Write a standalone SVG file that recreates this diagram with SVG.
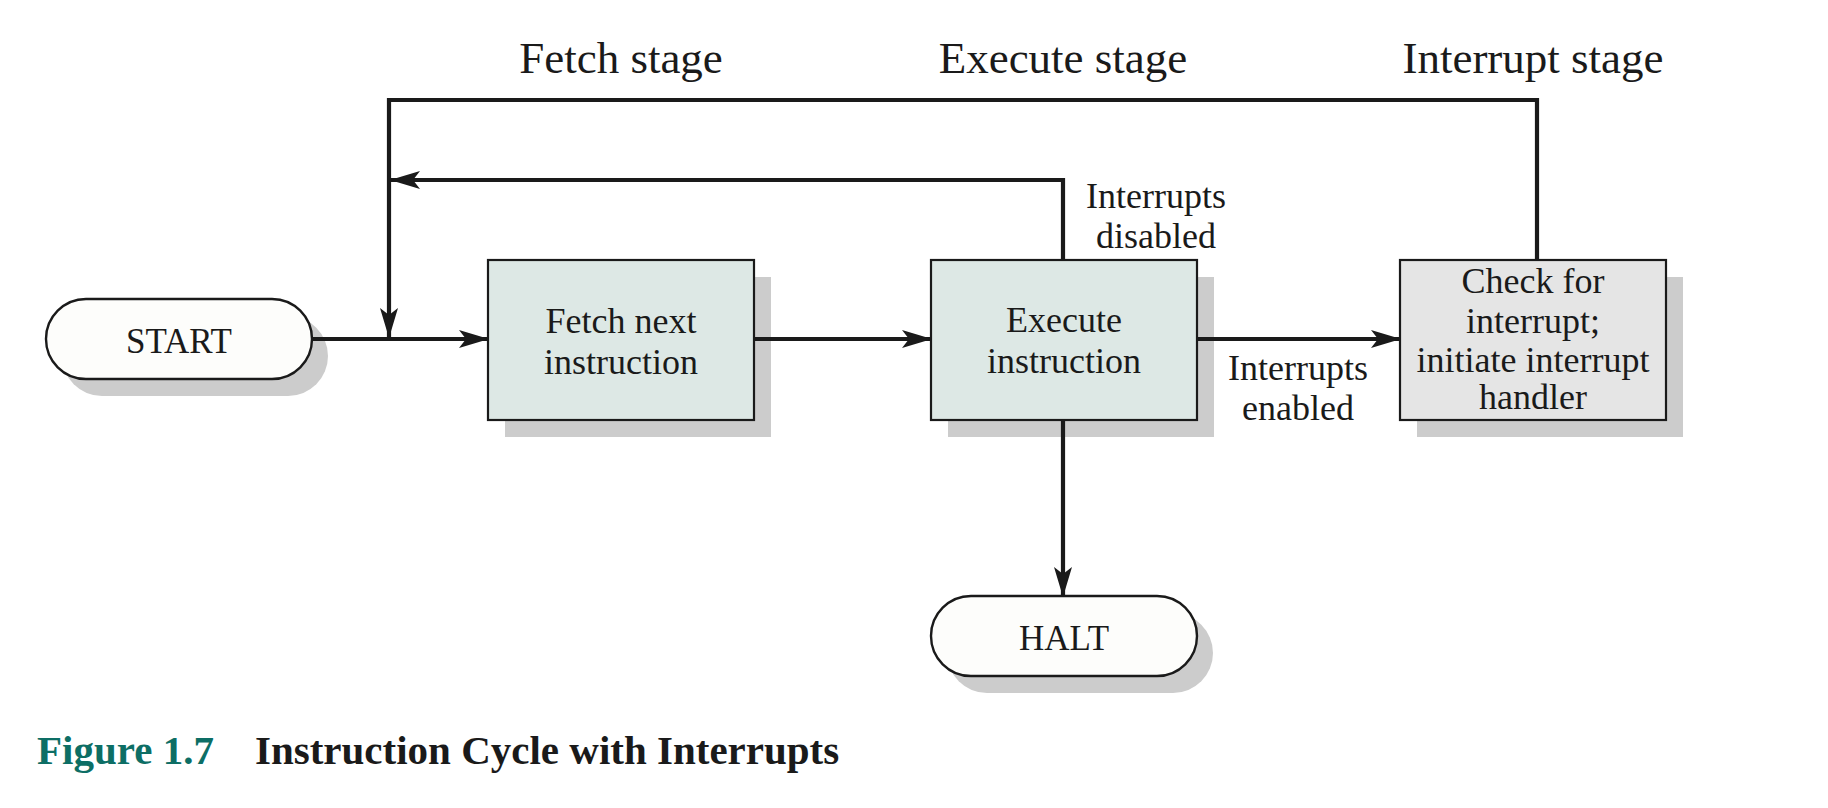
<svg xmlns="http://www.w3.org/2000/svg" width="1828" height="808" viewBox="0 0 1828 808">
  <style>
    .shadow { fill: #cccccc; }
    .proc { fill: #dde8e5; stroke: #1a1a1a; stroke-width: 2.2; }
    .check { fill: #e5e5e5; stroke: #1a1a1a; stroke-width: 2.2; }
    .term { fill: #fdfdfb; stroke: #1a1a1a; stroke-width: 2.4; }
    .lbl { font-family: "Liberation Serif", "Times New Roman", serif; fill: #1a1a1a; text-anchor: middle; }
    .box { font-size: 36px; }
    .term-t { font-size: 35px; }
    .stage { font-size: 45px; }
    .wire { fill: none; stroke: #1a1a1a; stroke-width: 4.2; stroke-linejoin: miter; }
    .cap { font-family: "Liberation Serif", "Times New Roman", serif; font-weight: bold; font-size: 41px; }
  </style>
  <defs>
    <marker id="arrow" viewBox="0 0 30 20" refX="29" refY="10" markerWidth="30" markerHeight="20" markerUnits="userSpaceOnUse" orient="auto">
      <path d="M0,1 L30,10 L0,19 L7,10 Z" fill="#1a1a1a"/>
    </marker>
  </defs>

  <rect width="1828" height="808" fill="#ffffff"/>

  <!-- stage headings -->
  <g id="stage-labels">
    <text class="lbl stage" x="621" y="73">Fetch stage</text>
    <text class="lbl stage" x="1063" y="73">Execute stage</text>
    <text class="lbl stage" x="1533" y="73">Interrupt stage</text>
  </g>

  <!-- START terminal -->
  <g id="start">
    <rect class="shadow" x="62" y="316" width="266" height="80" rx="40"/>
    <rect class="term" x="46" y="299" width="266" height="80" rx="40"/>
    <text class="lbl term-t" x="179" y="353">START</text>
  </g>

  <!-- Fetch next instruction -->
  <g id="fetch">
    <rect class="shadow" x="505" y="277" width="266" height="160"/>
    <rect class="proc" x="488" y="260" width="266" height="160"/>
    <text class="lbl box" x="621" y="333">Fetch next</text>
    <text class="lbl box" x="621" y="374">instruction</text>
  </g>

  <!-- Execute instruction -->
  <g id="execute">
    <rect class="shadow" x="948" y="277" width="266" height="160"/>
    <rect class="proc" x="931" y="260" width="266" height="160"/>
    <text class="lbl box" x="1064" y="332">Execute</text>
    <text class="lbl box" x="1064" y="373">instruction</text>
  </g>

  <!-- Interrupt check -->
  <g id="check">
    <rect class="shadow" x="1417" y="277" width="266" height="160"/>
    <rect class="check" x="1400" y="260" width="266" height="160"/>
    <text class="lbl box" x="1533" y="293">Check for</text>
    <text class="lbl box" x="1533" y="333">interrupt;</text>
    <text class="lbl box" x="1533" y="372">initiate interrupt</text>
    <text class="lbl box" x="1533" y="409">handler</text>
  </g>

  <!-- HALT terminal -->
  <g id="halt">
    <rect class="shadow" x="947" y="613" width="266" height="80" rx="40"/>
    <rect class="term" x="931" y="596" width="266" height="80" rx="40"/>
    <text class="lbl term-t" x="1064" y="650">HALT</text>
  </g>

  <!-- connectors -->
  <g id="connectors">
    <line class="wire" x1="312" y1="339" x2="488" y2="339" marker-end="url(#arrow)"/>
    <line class="wire" x1="754" y1="339" x2="931" y2="339" marker-end="url(#arrow)"/>
    <line class="wire" x1="1197" y1="339" x2="1400" y2="339" marker-end="url(#arrow)"/>
    <line class="wire" x1="1063" y1="420" x2="1063" y2="596" marker-end="url(#arrow)"/>
    <polyline class="wire" points="1063,260 1063,180 391,180" marker-end="url(#arrow)"/>
    <polyline class="wire" points="1537,260 1537,100 389,100 389,337" marker-end="url(#arrow)"/>
  </g>

  <!-- branch labels -->
  <g id="branch-labels">
    <text class="lbl box" x="1156" y="208">Interrupts</text>
    <text class="lbl box" x="1156" y="248">disabled</text>
    <text class="lbl box" x="1298" y="380">Interrupts</text>
    <text class="lbl box" x="1298" y="420">enabled</text>
  </g>

  <!-- caption -->
  <g id="caption">
    <text class="cap" x="37" y="764" fill="#0d6e65">Figure 1.7</text>
    <text class="cap" x="255" y="764" fill="#1a1a1a">Instruction Cycle with Interrupts</text>
  </g>
</svg>
